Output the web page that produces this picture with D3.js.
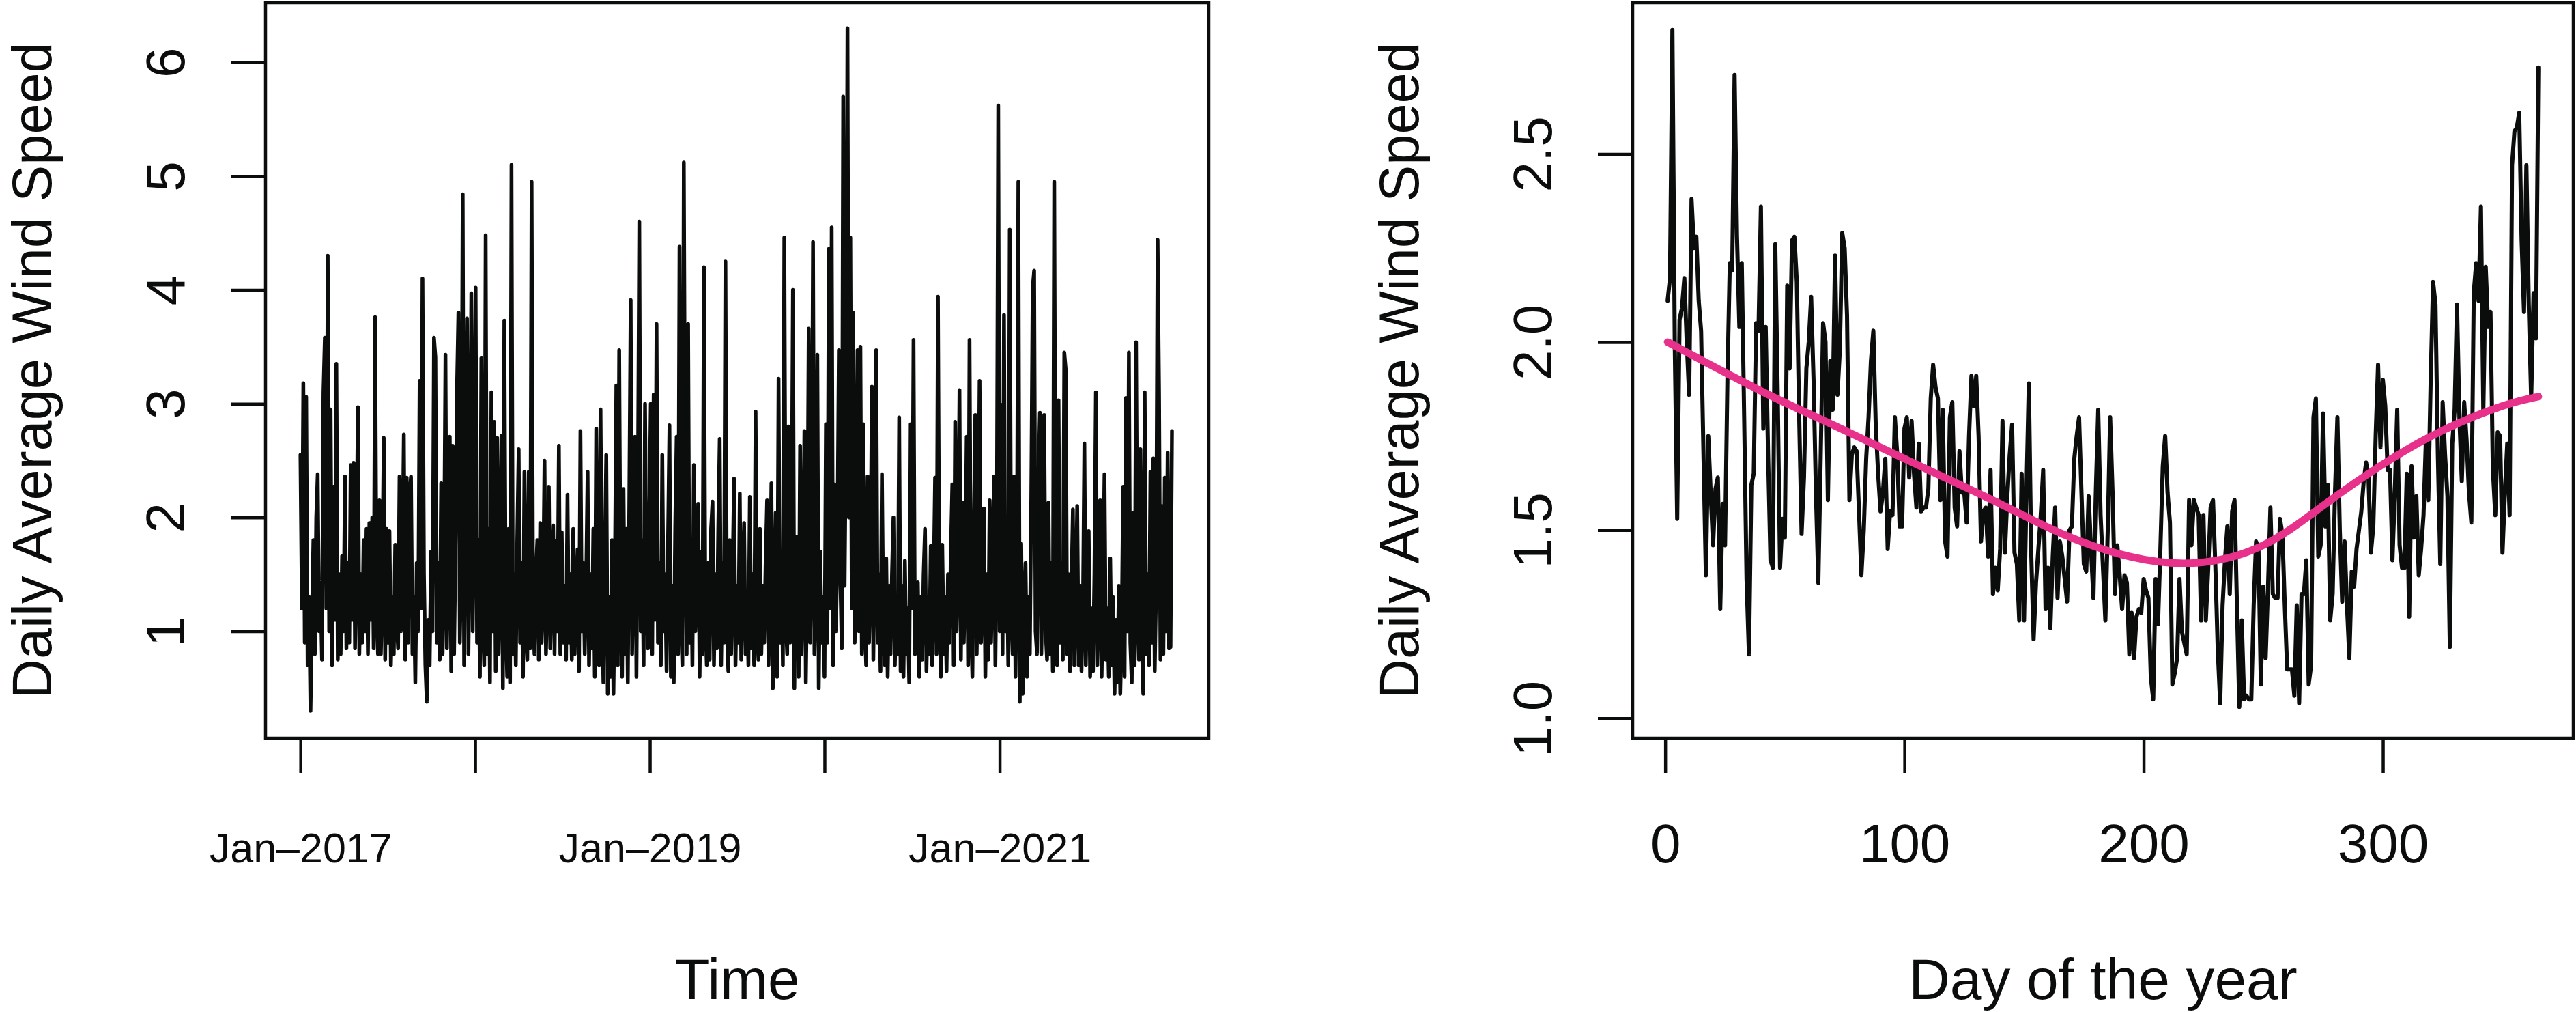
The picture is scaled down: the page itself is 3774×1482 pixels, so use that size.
<!DOCTYPE html>
<html>
<head>
<meta charset="utf-8">
<script src="https://cdn.jsdelivr.net/npm/d3@7"></script>
<style>
  body { margin: 0; background: #fff; }
</style>
</head>
<body>
<svg id="chart" width="3774" height="1482"></svg>
<script>
// daily average wind speed, every 3rd day (Jan-2017 .. Dec-2021)
const wind2017 = [2.55,1.2,3.18,0.9,3.06,0.7,1.3,0.3,1.1,1.8,
  0.8,2.0,2.38,1.0,1.4,0.75,3.1,3.58,1.2,4.3,
  1.0,2.95,0.7,2.27,1.1,3.35,0.75,1.5,0.8,1.66,
  1.0,2.36,0.85,1.6,0.9,2.46,1.1,2.48,0.85,1.7,
  2.97,0.8,1.5,0.9,1.8,1.0,1.9,0.8,1.95,1.1,
  2.0,0.85,3.76,1.2,0.8,2.15,0.8,1.4,2.7,0.75,
  1.9,0.9,1.88,0.7,1.3,0.8,1.76,1.1,0.85,2.36,
  1.0,1.6,2.73,0.75,2.35,0.9,2.2,2.36,0.8,1.3,
  0.55,1.6,1.0,3.2,1.2,4.1,1.5,0.7,0.38,1.1,
  0.7,1.7,1.0,3.58,3.41,0.9,1.6,0.75,2.3,0.8,
  1.5,3.43,0.85,1.7,2.71,0.65,2.63,0.8,1.8,3.12,
  3.8,0.9,1.6,4.84,0.7,2.4,3.75,0.8,2.0,3.97,
  1.0,2.2];
const wind2018 = [4.02,0.9,1.8,0.6,3.4,1.1,0.7,4.48,0.8,1.9,
  0.55,3.1,1.0,2.84,0.65,2.7,0.8,1.5,2.72,0.5,
  3.73,1.1,0.6,1.9,0.55,5.1,0.8,1.5,0.7,1.8,
  2.6,0.9,1.6,0.6,2.4,1.0,0.75,2.4,0.85,4.95,
  1.2,0.8,1.5,1.8,0.75,1.95,0.9,1.3,2.5,0.8,
  1.4,2.27,0.85,1.5,1.93,0.8,1.79,1.0,2.63,0.8,
  1.87,0.9,1.4,0.75,2.2,0.9,1.5,0.75,1.9,0.8,
  1.3,1.72,0.65,2.76,1.0,1.6,0.8,1.4,2.4,0.7,
  1.5,0.85,1.9,0.6,2.78,1.1,0.7,2.95,1.2,0.55,
  1.7,2.55,0.45,1.3,0.6,1.8,0.45,1.5,3.16,0.7,
  3.47,1.2,0.6,2.25,0.8,1.9,0.55,2.1,3.91,0.8,
  1.6,2.71,0.6,2.2,4.6,1.0,1.8,0.7,3.0,1.3,
  0.85,2.0];
const wind2019 = [3.0,0.8,3.08,1.1,3.7,0.9,1.6,0.7,2.55,1.0,
  1.5,0.65,1.8,2.81,0.6,1.4,0.55,1.9,2.71,0.8,
  4.38,1.2,0.7,5.12,2.0,0.8,3.7,0.9,1.7,0.7,
  2.46,1.0,1.5,2.12,0.6,1.7,0.8,4.2,1.1,0.7,
  1.6,0.75,1.9,2.14,0.7,1.5,0.85,1.9,2.69,0.7,
  1.6,0.9,4.25,1.0,0.65,1.8,0.8,1.5,2.34,0.7,
  1.4,0.9,2.21,0.75,1.4,1.95,0.8,1.3,0.7,2.18,
  0.85,1.5,0.7,2.93,1.0,0.75,1.9,0.8,1.4,0.9,
  1.6,2.15,0.7,1.3,2.3,0.5,1.2,2.04,0.6,3.22,
  0.9,1.7,0.7,4.46,1.1,0.8,2.8,0.9,1.5,4.0,
  0.5,1.7,1.83,0.6,2.63,0.8,1.4,2.76,0.55,1.5,
  3.66,0.9,1.6,4.42,0.8,1.3,3.43,0.5,1.7,0.9,
  1.3,0.6];
const wind2020 = [2.82,0.9,4.36,1.2,4.55,0.7,2.29,1.0,1.8,3.47,
  1.5,0.85,5.7,1.4,2.9,6.3,2.0,4.46,1.2,3.8,
  0.9,1.6,3.47,1.0,3.5,0.8,2.82,1.1,0.7,2.36,
  0.9,1.5,3.15,0.75,1.7,3.47,0.9,1.5,0.65,2.38,
  1.0,0.7,1.64,0.6,1.4,0.8,1.5,2.0,0.7,1.3,
  0.8,2.88,0.65,1.4,0.6,1.62,0.8,1.2,0.55,2.82,
  1.2,3.56,0.8,1.2,1.43,0.6,1.3,0.75,1.5,1.9,
  0.65,1.3,0.8,1.75,0.7,1.4,2.35,0.8,3.94,1.2,
  0.6,1.76,0.8,1.3,0.65,1.5,0.9,1.7,2.29,0.7,
  2.84,1.0,1.6,3.12,0.75,2.13,0.9,1.5,2.71,0.7,
  3.56,1.1,0.6,1.8,2.9,0.8,1.6,3.2,0.9,1.4,
  2.08,0.6,1.5,0.75,2.15,0.9,1.5,2.36,0.7,1.8,
  5.62,1.0];
const wind2021 = [2.99,0.8,3.78,1.0,1.7,0.7,4.53,1.2,0.8,2.36,
  0.6,1.5,4.95,0.38,1.77,0.45,1.2,1.6,0.6,1.3,
  0.8,2.2,4.02,4.17,1.0,0.8,2.36,2.92,0.8,1.5,
  2.9,1.0,0.75,2.13,0.8,1.6,0.65,4.95,1.2,0.7,
  3.03,0.9,1.6,0.75,3.45,3.3,0.8,1.5,0.65,1.4,
  2.07,0.7,1.3,2.1,0.7,1.4,0.65,1.2,2.65,0.7,
  1.4,1.88,0.6,1.2,0.65,1.5,3.1,0.7,1.3,2.15,
  0.6,1.4,2.38,0.75,1.2,0.6,1.64,0.7,1.3,0.45,
  1.1,0.55,1.4,0.45,1.0,2.27,0.6,3.05,1.0,3.45,
  0.9,0.55,2.04,0.7,3.54,1.2,0.75,2.6,0.9,0.45,
  3.1,0.8,1.5,0.7,2.4,0.9,2.52,0.65,1.4,4.44,
  3.1,0.75,2.1,0.8,2.35,1.0,2.57,0.85,0.86,2.76];

// mean wind speed for each day of the year (day 1 .. 365)
const dayMeans = [2.11,2.17,2.83,1.99,1.53,2.06,2.09,2.17,2.0,1.86,
  2.38,2.25,2.28,2.11,2.03,1.7,1.38,1.75,1.6,1.46,
  1.61,1.64,1.29,1.57,1.46,1.9,2.21,2.19,2.71,2.28,
  2.04,2.21,1.8,1.37,1.17,1.62,1.65,2.05,2.03,2.36,
  1.77,2.04,1.7,1.42,1.40,2.26,1.87,1.40,1.53,1.48,
  2.15,1.93,2.27,2.28,2.16,1.8,1.49,1.64,1.93,2.0,
  2.12,1.9,1.6,1.36,1.7,2.05,2.0,1.58,1.95,1.82,
  2.23,1.86,1.98,2.29,2.25,2.07,1.58,1.7,1.72,1.71,
  1.55,1.38,1.5,1.69,1.8,1.95,2.03,1.78,1.65,1.55,
  1.6,1.69,1.45,1.55,1.54,1.80,1.7,1.51,1.51,1.77,
  1.8,1.64,1.79,1.65,1.56,1.73,1.55,1.56,1.56,1.61,
  1.85,1.94,1.88,1.85,1.58,1.82,1.47,1.43,1.80,1.84,
  1.56,1.51,1.71,1.6,1.6,1.52,1.75,1.91,1.83,1.91,
  1.75,1.47,1.55,1.56,1.43,1.66,1.33,1.40,1.34,1.45,
  1.79,1.44,1.59,1.7,1.78,1.44,1.41,1.26,1.65,1.26,
  1.6,1.89,1.44,1.21,1.36,1.45,1.54,1.66,1.29,1.40,
  1.24,1.43,1.56,1.32,1.47,1.43,1.37,1.31,1.50,1.51,
  1.69,1.75,1.80,1.6,1.41,1.39,1.59,1.45,1.32,1.6,
  1.82,1.54,1.4,1.26,1.5,1.80,1.6,1.33,1.46,1.38,
  1.29,1.38,1.36,1.17,1.28,1.16,1.27,1.29,1.28,1.37,
  1.34,1.32,1.11,1.05,1.37,1.25,1.45,1.67,1.75,1.6,
  1.52,1.09,1.12,1.16,1.37,1.23,1.2,1.17,1.58,1.46,
  1.58,1.56,1.54,1.26,1.54,1.26,1.4,1.56,1.58,1.4,
  1.18,1.04,1.3,1.42,1.51,1.33,1.55,1.58,1.3,1.03,
  1.26,1.05,1.06,1.05,1.05,1.3,1.47,1.45,1.09,1.35,
  1.16,1.35,1.56,1.33,1.32,1.32,1.53,1.49,1.3,1.13,
  1.13,1.13,1.06,1.3,1.04,1.33,1.33,1.42,1.09,1.14,
  1.80,1.85,1.43,1.46,1.81,1.51,1.62,1.26,1.33,1.6,
  1.80,1.50,1.31,1.47,1.3,1.16,1.39,1.35,1.45,1.5,
  1.55,1.63,1.68,1.64,1.44,1.51,1.75,1.94,1.72,1.90,
  1.83,1.66,1.66,1.42,1.6,1.82,1.46,1.40,1.40,1.65,
  1.27,1.67,1.48,1.59,1.38,1.45,1.54,1.74,1.58,1.9,
  2.16,2.1,1.7,1.41,1.84,1.7,1.59,1.19,1.73,1.82,
  2.10,1.8,1.63,1.84,1.74,1.6,1.52,2.13,2.21,2.11,
  2.36,1.82,2.20,2.04,2.08,1.66,1.54,1.76,1.75,1.44,
  1.6,1.73,1.54,2.47,2.56,2.57,2.61,2.27,2.08,2.47,
  2.1,1.85,2.13,2.01,2.73];

// smooth (pink) fit, read at a few days
const smoothDays = [1, 40, 70, 110, 140, 166, 194, 222, 250, 275, 300, 325, 350, 365];
const smoothVals = [2.00, 1.87, 1.78, 1.66, 1.57, 1.49, 1.43, 1.413, 1.46, 1.565, 1.675, 1.765, 1.83, 1.855];

// axis ticks
const yTicksLeft = [1, 2, 3, 4, 5, 6];
const yearTicks = ["2017-01-01", "2018-01-01", "2019-01-01", "2020-01-01", "2021-01-01"];
const yearTickLabels = ["Jan\u20132017", "", "Jan\u20132019", "", "Jan\u20132021"];
const dayTicks = [0, 100, 200, 300];
const yTicksRight = [1.0, 1.5, 2.0, 2.5];

const FONT = "'Liberation Sans', Arial, Helvetica, sans-serif";
const INK = "#0b0d0c";
const PINK = "#e8318b";

const plotTop = 4, plotBottom = 1081;
const leftBox = { x0: 389, x1: 1771 };
const rightBox = { x0: 2392, x1: 3770 };

const svg = d3.select("#chart");

// ---------- scales ----------
const parse = d3.timeParse("%Y-%m-%d");
const start = parse("2017-01-01");
const last = parse("2021-12-31");

const xL = d3.scaleTime()
  .domain([d3.timeDay.offset(start, -73), d3.timeDay.offset(last, 73)])
  .range([leftBox.x0, leftBox.x1]);
const yL = d3.scaleLinear().domain([0.06, 6.524]).range([plotBottom, plotTop]);

const xR = d3.scaleLinear().domain([-13.6, 379.6]).range([rightBox.x0, rightBox.x1]);
const yR = d3.scaleLinear().domain([0.947, 2.902]).range([plotBottom, plotTop]);

// ---------- data ----------
const allWind = [].concat(wind2017, wind2018, wind2019, wind2020, wind2021);
const leftData = allWind.map((v, i) => ({ date: d3.timeDay.offset(start, 3 * i), v }));
const rightData = dayMeans.map((v, i) => ({ day: i + 1, v }));
const smoothData = smoothDays.map((d, i) => ({ day: d, v: smoothVals[i] }));

// ---------- helpers ----------
function styleAxis(g) {
  g.select(".domain").remove();
  g.selectAll(".tick line").attr("stroke", INK).attr("stroke-width", 4.5);
  g.selectAll(".tick text").attr("fill", INK).style("font-family", FONT);
}

function frame(box) {
  svg.append("rect")
    .attr("x", box.x0).attr("y", plotTop)
    .attr("width", box.x1 - box.x0).attr("height", plotBottom - plotTop)
    .attr("fill", "none").attr("stroke", INK).attr("stroke-width", 4.5);
}

function yTitle(x, text) {
  svg.append("text")
    .attr("transform", `translate(${x},${(plotTop + plotBottom) / 2}) rotate(-90)`)
    .attr("text-anchor", "middle")
    .style("font-family", FONT).style("font-size", "81px").attr("fill", INK)
    .text(text);
}

function xTitle(box, text) {
  svg.append("text")
    .attr("x", (box.x0 + box.x1) / 2).attr("y", 1463)
    .attr("text-anchor", "middle")
    .style("font-family", FONT).style("font-size", "84px").attr("fill", INK)
    .text(text);
}

// ---------- left panel ----------
svg.append("path")
  .datum(leftData)
  .attr("fill", "none").attr("stroke", INK).attr("stroke-width", 5.5)
  .attr("stroke-linejoin", "round").attr("stroke-linecap", "round")
  .attr("d", d3.line().x(d => xL(d.date)).y(d => yL(d.v)));

frame(leftBox);

const gxL = svg.append("g")
  .attr("transform", `translate(0,${plotBottom})`)
  .call(d3.axisBottom(xL)
    .tickValues(yearTicks.map(parse))
    .tickFormat((d, i) => yearTickLabels[i])
    .tickSize(51));
styleAxis(gxL);
gxL.selectAll(".tick text").attr("y", 182).attr("dy", 0).style("font-size", "61px");

const gyL = svg.append("g")
  .attr("transform", `translate(${leftBox.x0},0)`)
  .call(d3.axisLeft(yL).tickValues(yTicksLeft).tickFormat(d3.format("d")).tickSize(51));
styleAxis(gyL);
gyL.selectAll(".tick text")
  .attr("x", 0).attr("dy", 0)
  .attr("text-anchor", "middle")
  .attr("transform", "translate(-119,0) rotate(-90)")
  .style("font-size", "80px");

yTitle(75, "Daily Average Wind Speed");
xTitle(leftBox, "Time");

// ---------- right panel ----------
svg.append("path")
  .datum(rightData)
  .attr("fill", "none").attr("stroke", INK).attr("stroke-width", 6)
  .attr("stroke-linejoin", "round").attr("stroke-linecap", "round")
  .attr("d", d3.line().x(d => xR(d.day)).y(d => yR(d.v)));

svg.append("path")
  .datum(smoothData)
  .attr("fill", "none").attr("stroke", PINK).attr("stroke-width", 11)
  .attr("stroke-linecap", "round")
  .attr("d", d3.line().curve(d3.curveNatural).x(d => xR(d.day)).y(d => yR(d.v)));

frame(rightBox);

const gxR = svg.append("g")
  .attr("transform", `translate(0,${plotBottom})`)
  .call(d3.axisBottom(xR).tickValues(dayTicks).tickFormat(d3.format("d")).tickSize(51));
styleAxis(gxR);
gxR.selectAll(".tick text").attr("y", 182).attr("dy", 0).style("font-size", "80px");

const gyR = svg.append("g")
  .attr("transform", `translate(${rightBox.x0},0)`)
  .call(d3.axisLeft(yR).tickValues(yTicksRight).tickFormat(d3.format(".1f")).tickSize(51));
styleAxis(gyR);
gyR.selectAll(".tick text")
  .attr("x", 0).attr("dy", 0)
  .attr("text-anchor", "middle")
  .attr("transform", "translate(-119,0) rotate(-90)")
  .style("font-size", "80px");

yTitle(rightBox.x0 - 314, "Daily Average Wind Speed");
xTitle(rightBox, "Day of the year");
</script>
</body>
</html>
